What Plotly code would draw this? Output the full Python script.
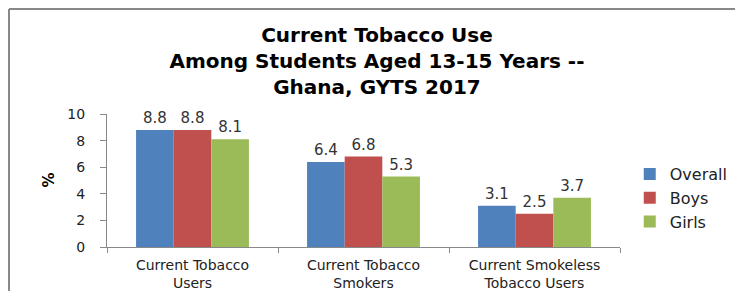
import plotly.graph_objects as go

categories = ["Current Tobacco<br>Users", "Current Tobacco<br>Smokers", "Current Smokeless<br>Tobacco Users"]
series_names = ["Overall", "Boys", "Girls"]
overall = [8.8, 6.4, 3.1]
boys = [8.8, 6.8, 2.5]
girls = [8.1, 5.3, 3.7]
y_ticks = [0, 2, 4, 6, 8, 10]

colors = ["#4F81BD", "#C0504D", "#9BBB59"]
font_main = "DejaVu Sans"

# the page body adds an 8px offset; the figure fills the rest of the window
W, H = 735, 283
L, R, T, B = 99, 123, 106, 44
PW, PH = W - L - R, H - T - B

fig = go.Figure()
for name, vals, col in zip(series_names, [overall, boys, girls], colors):
    fig.add_trace(go.Bar(
        x=categories, y=vals, name=name,
        marker=dict(color=col, line=dict(width=0)),
        text=[f"{v:.1f}" for v in vals], textposition="outside",
        textfont=dict(family=font_main, size=15, color="#333333"),
        cliponaxis=False,
    ))

fig.update_layout(
    width=W, height=H,
    margin=dict(l=L, r=R, t=T, b=B, autoexpand=False),
    paper_bgcolor="white", plot_bgcolor="white",
    barmode="group", bargap=0.34, bargroupgap=0,
    title=dict(
        text="Current Tobacco Use<br>Among Students Aged 13-15 Years --<br>Ghana, GYTS 2017",
        x=369 / W, xref="container", xanchor="center",
        y=1 - 34 / H, yref="container", yanchor="middle",
        font=dict(family=font_main, size=20, color="black", weight="bold"),
    ),
    legend=dict(
        x=1.019, y=0.368, xanchor="left", yanchor="middle",
        font=dict(family=font_main, size=16, color="#222222"),
        tracegroupgap=0, itemwidth=30,
    ),
    showlegend=True,
    font=dict(family=font_main, color="#222222"),
)

fig.update_xaxes(
    showline=True, linecolor="#888888", linewidth=1,
    ticks="outside", tickson="boundaries", ticklen=5, tickcolor="#888888",
    ticklabelstandoff=5,
    tickfont=dict(family=font_main, size=14, color="#222222"),
    showgrid=False, automargin=False,
)
fig.update_yaxes(
    range=[0, 10], tickvals=y_ticks,
    showline=True, linecolor="#888888", linewidth=1,
    ticks="outside", ticklen=6, tickcolor="#888888",
    ticklabelstandoff=12,
    tickfont=dict(family=font_main, size=14, color="#222222"),
    showgrid=False, zeroline=False, automargin=False,
)

fig.add_annotation(
    text="<b>%</b>", xref="paper", yref="paper",
    x=(40 - L) / PW, y=0.5, xanchor="center", yanchor="middle",
    showarrow=False, textangle=-90,
    font=dict(family=font_main, size=15, color="black"),
)

# outer frame (left and top edges)
fig.add_shape(type="line", xref="paper", yref="paper",
              x0=(1 - L) / PW, x1=(W - L) / PW,
              y0=(PH + T - 1) / PH, y1=(PH + T - 1) / PH,
              line=dict(color="#888888", width=2))
fig.add_shape(type="line", xref="paper", yref="paper",
              x0=(1 - L) / PW, x1=(1 - L) / PW,
              y0=(PH + T - 1) / PH, y1=-B / PH,
              line=dict(color="#888888", width=2))

fig.write_html("out.html")
